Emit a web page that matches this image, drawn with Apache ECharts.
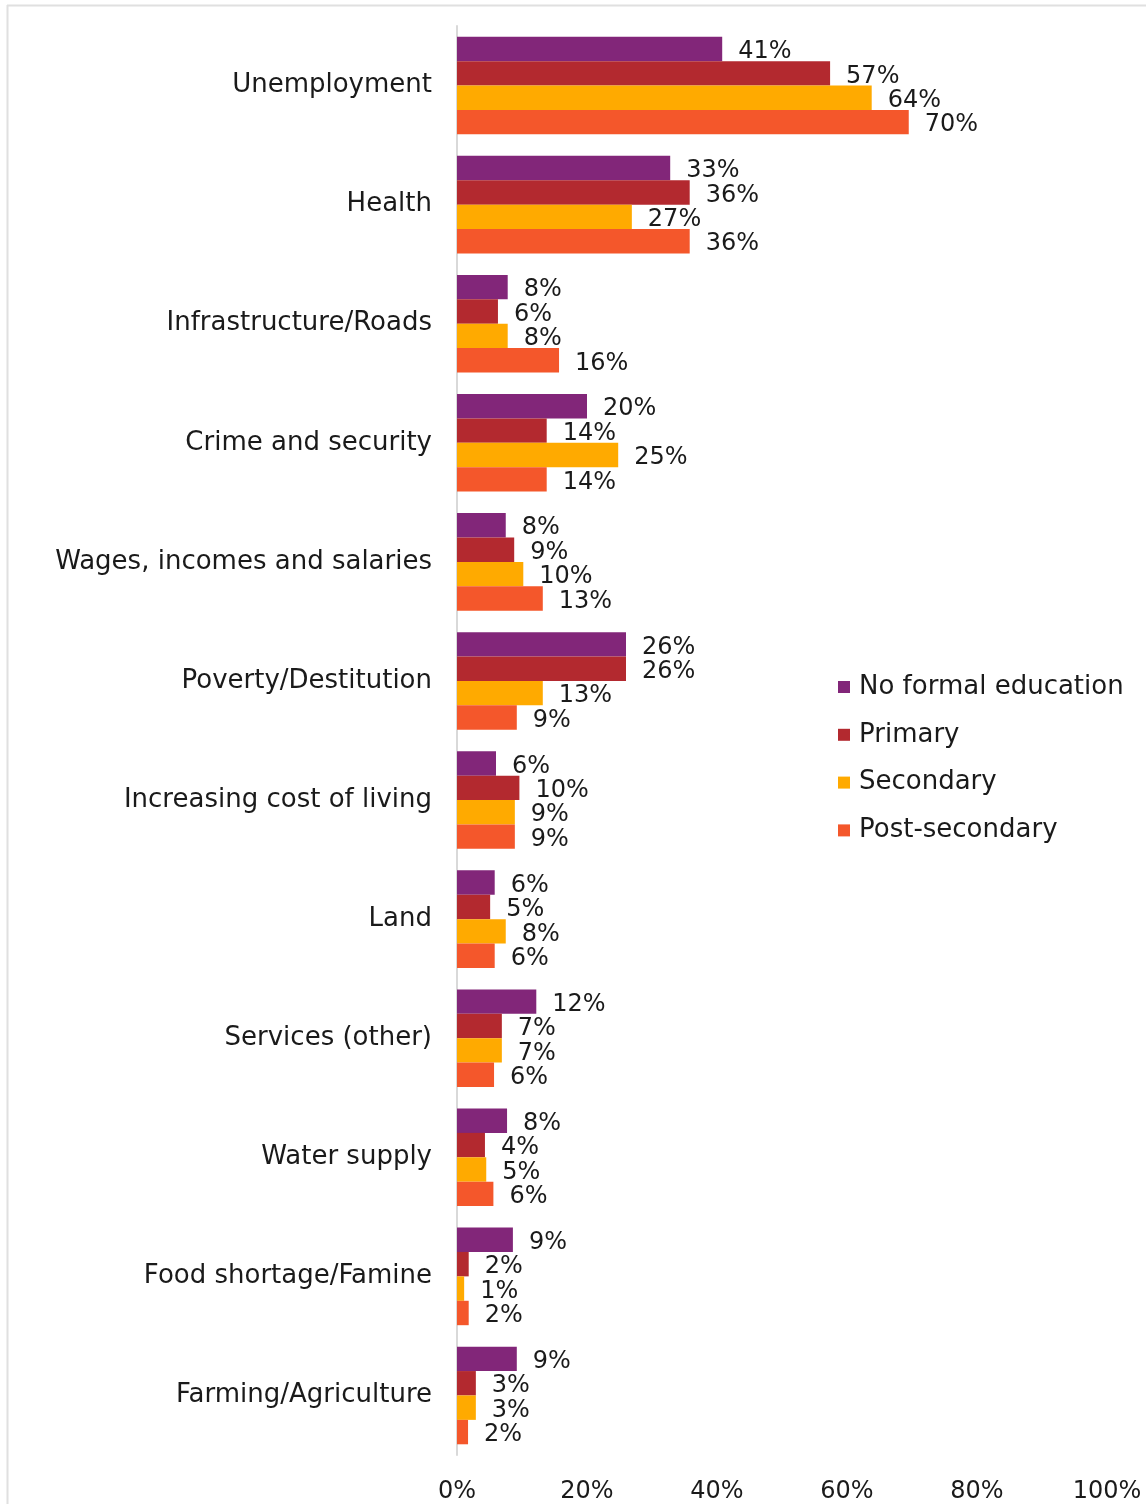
<!DOCTYPE html>
<html>
<head>
<meta charset="utf-8">
<script src="https://cdn.jsdelivr.net/npm/echarts@6/dist/echarts.min.js"></script>
<style>html,body{margin:0;padding:0;background:#fff}#c{width:1146px;height:1504px}</style>
</head>
<body>
<div id="c"></div>
<script>
var categories = ["Unemployment","Health","Infrastructure/Roads","Crime and security","Wages, incomes and salaries","Poverty/Destitution","Increasing cost of living","Land","Services (other)","Water supply","Food shortage/Famine","Farming/Agriculture"];
var seriesNames = ["No formal education","Primary","Secondary","Post-secondary"];
var noFormal = [40.8,32.8,7.8,20.0,7.5,26.0,6.0,5.8,12.2,7.7,8.6,9.2];
var primary = [57.4,35.8,6.3,13.8,8.8,26.0,9.6,5.1,6.9,4.3,1.8,2.9];
var secondary = [63.8,26.9,7.8,24.8,10.2,13.2,8.9,7.5,6.9,4.5,1.1,2.9];
var postSecondary = [69.5,35.8,15.7,13.8,13.2,9.2,8.9,5.8,5.7,5.6,1.8,1.7];
var xTicks = [0,20,40,60,80,100];
var colors = ["#822679","#B3292F","#FFAA00","#F4572B"];

var FONT = "DejaVu Sans";
var chart = echarts.init(document.getElementById('c'));
var dataSets = [noFormal, primary, secondary, postSecondary];
var series = dataSets.map(function(d, i){
  return {
    name: seriesNames[i],
    type: 'bar',
    data: d,
    barGap: '0%',
    barCategoryGap: '18%',
    itemStyle: {color: colors[i]},
    label: {
      show: true,
      position: 'right',
      distance: 16,
      offset: [0, 3],
      fontFamily: FONT,
      fontSize: 24,
      color: '#1a1a1a',
      formatter: function(p){ return Math.round(p.value) + '%'; }
    }
  };
});
chart.setOption({
  animation: false,
  color: colors,
  grid: {left: 457, right: 39, top: 26, bottom: 49, containLabel: false},
  legend: {
    data: seriesNames,
    orient: 'vertical',
    left: 838,
    top: 674,
    padding: 0,
    itemWidth: 12,
    itemHeight: 12,
    itemGap: 21.8,
    icon: 'rect',
    textStyle: {fontFamily: FONT, fontSize: 26, color: '#1a1a1a', lineHeight: 26, padding: [0,0,0,4]}
  },
  xAxis: {
    type: 'value',
    min: 0, max: 100, interval: 20,
    axisLine: {show: false},
    axisTick: {show: false},
    splitLine: {show: false},
    axisLabel: {fontFamily: FONT, fontSize: 24, color: '#1a1a1a', margin: 25,
      formatter: function(v){ return xTicks.indexOf(v) >= 0 ? v + '%' : ''; }}
  },
  yAxis: {
    type: 'category',
    data: categories,
    inverse: true,
    axisLine: {show: true, lineStyle: {color: '#D9D9D9', width: 2}},
    axisTick: {show: false},
    axisLabel: {fontFamily: FONT, fontSize: 26, color: '#1a1a1a', margin: 25, padding: [4,0,0,0]}
  },
  graphic: [
    {type: 'line', shape: {x1: 7, y1: 5.5, x2: 1146, y2: 5.5}, style: {stroke: '#E0E0E0', lineWidth: 2}},
    {type: 'line', shape: {x1: 7.5, y1: 5, x2: 7.5, y2: 1504}, style: {stroke: '#E0E0E0', lineWidth: 2}}
  ],
  series: series
});
</script>
</body>
</html>
